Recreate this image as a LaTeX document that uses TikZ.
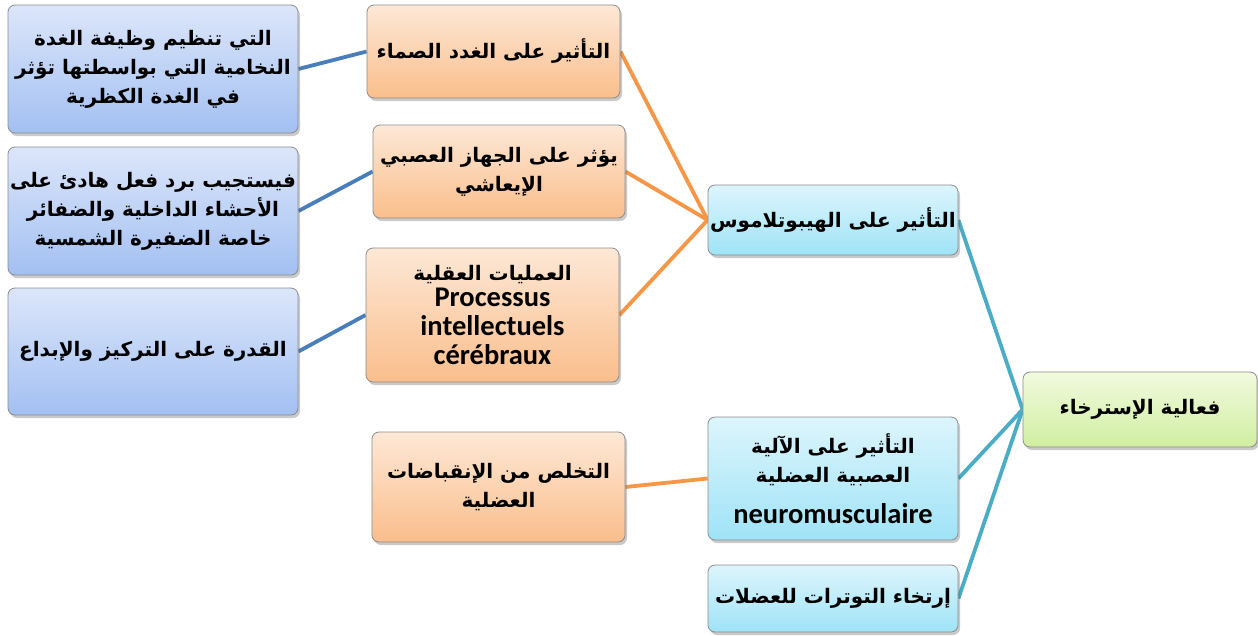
\documentclass[tikz,border=0pt]{standalone}
\usepackage{fontspec}
\TeXXeTstate=1
\newfontfamily\arabicfont[Script=Arabic]{DejaVu Sans}
\newfontfamily\latinfont{Carlito}
\usetikzlibrary{shadows,backgrounds}
\newcommand{\artxt}[1]{\beginR #1\endR}
\definecolor{bluetop}{HTML}{DCE6FA}
\definecolor{bluebot}{HTML}{A3C0F2}
\definecolor{orgtop}{HTML}{FDE8D6}
\definecolor{orgbot}{HTML}{FABE8C}
\definecolor{cyantop}{HTML}{DDF5FC}
\definecolor{cyanbot}{HTML}{9FE3F7}
\definecolor{grntop}{HTML}{F2FADF}
\definecolor{grnbot}{HTML}{D0EEA0}
\definecolor{blueln}{HTML}{4A7EBB}
\definecolor{orgln}{HTML}{F79646}
\definecolor{tealln}{HTML}{4BACC6}
\definecolor{edge}{HTML}{8C8C8C}
\tikzset{
  box/.style={rectangle, rounded corners=7pt, draw=edge, line width=0.8pt,
    align=center, inner sep=2pt,
    drop shadow={shadow xshift=2pt, shadow yshift=-3pt, opacity=0.35, fill=black!60},
    font=\arabicfont\bfseries\fontsize{20}{29}\selectfont},
  bluebox/.style={box, top color=bluetop, bottom color=bluebot},
  orgbox/.style={box, top color=orgtop, bottom color=orgbot},
  cyanbox/.style={box, top color=cyantop, bottom color=cyanbot},
  grnbox/.style={box, top color=grntop, bottom color=grnbot},
  link/.style={line width=3.8pt},
  blink/.style={link, draw=blueln},
  olink/.style={link, draw=orgln},
  tlink/.style={link, draw=tealln},
}
\newcommand{\lat}[1]{{\latinfont\bfseries\fontsize{28.5}{30}\selectfont #1}}
\begin{document}
\begin{tikzpicture}[x=1pt,y=-1pt]
\useasboundingbox (0,0) rectangle (1258,635);
\node[bluebox, minimum width=290pt, minimum height=128pt] (b1) at (153,69)
  {\artxt{التي تنظيم وظيفة الغدة}\\\artxt{النخامية التي بواسطتها تؤثر}\\\artxt{في الغدة الكظرية}};
\node[bluebox, minimum width=290pt, minimum height=128pt] (b2) at (153,211)
  {\artxt{فيستجيب برد فعل هادئ على}\\\artxt{الأحشاء الداخلية والضفائر}\\\artxt{خاصة الضفيرة الشمسية}};
\node[bluebox, minimum width=290pt, minimum height=127pt] (b3) at (153,351.5)
  {\artxt{القدرة على التركيز والإبداع}};
\node[orgbox, minimum width=253pt, minimum height=93pt] (b4) at (493.5,51.5)
  {\artxt{التأثير على الغدد الصماء}};
\node[orgbox, minimum width=252pt, minimum height=93pt] (b5) at (499,171.5)
  {\artxt{يؤثر على الجهاز العصبي}\\\artxt{الإيعاشي}};
\node[orgbox, minimum width=253pt, minimum height=134pt] (b6) at (492.5,315)
  {\artxt{العمليات العقلية}\\[-2pt]\lat{Processus}\\\lat{intellectuels}\\\lat{cérébraux}};
\node[orgbox, minimum width=253pt, minimum height=110pt] (b7) at (498.5,487)
  {\artxt{التخلص من الإنقباضات}\\\artxt{العضلية}};
\node[cyanbox, minimum width=250pt, minimum height=70pt] (b8) at (833,220)
  {\artxt{التأثير على الهيبوتلاموس}};
\node[cyanbox, minimum width=250pt, minimum height=123pt] (b9) at (833,478.5)
  {\artxt{التأثير على الآلية}\\\artxt{العصبية العضلية}\\[12pt]\lat{neuromusculaire}};
\node[cyanbox, minimum width=250pt, minimum height=67pt] (b10) at (833,598.5)
  {\artxt{إرتخاء التوترات للعضلات}};
\node[grnbox, minimum width=234pt, minimum height=75pt] (b11) at (1140,409.5)
  {\artxt{فعالية الإسترخاء}};
\begin{scope}[on background layer]
\draw[blink] (b1.east) -- (b4.west);
\draw[blink] (b2.east) -- (b5.west);
\draw[blink] (b3.east) -- (b6.west);
\draw[olink] (b4.east) -- (b8.west);
\draw[olink] (b5.east) -- (b8.west);
\draw[olink] (b6.east) -- (b8.west);
\draw[olink] (b7.east) -- (b9.west);
\draw[tlink] (b8.east) -- (b11.west);
\draw[tlink] (b9.east) -- (b11.west);
\draw[tlink] (b10.east) -- (b11.west);
\end{scope}
\end{tikzpicture}
\end{document}
